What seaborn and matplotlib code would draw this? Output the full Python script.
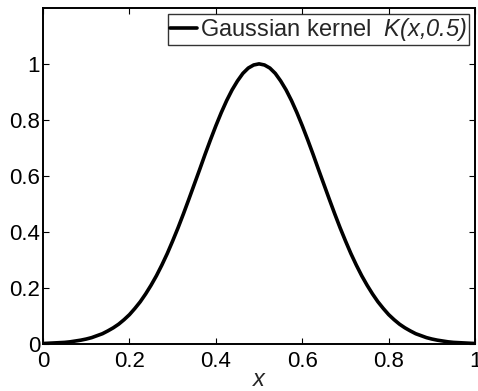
import matplotlib
matplotlib.use("Agg")
import matplotlib.pyplot as plt
import seaborn as sns

# values (x step 0.0125)
x_vals = [0.0, 0.0125, 0.025, 0.0375, 0.05, 0.0625, 0.075, 0.0875, 0.1, 0.1125,
          0.125, 0.1375, 0.15, 0.1625, 0.175, 0.1875, 0.2, 0.2125, 0.225, 0.2375,
          0.25, 0.2625, 0.275, 0.2875, 0.3, 0.3125, 0.325, 0.3375, 0.35, 0.3625,
          0.375, 0.3875, 0.4, 0.4125, 0.425, 0.4375, 0.45, 0.4625, 0.475, 0.4875,
          0.5, 0.5125, 0.525, 0.5375, 0.55, 0.5625, 0.575, 0.5875, 0.6, 0.6125,
          0.625, 0.6375, 0.65, 0.6625, 0.675, 0.6875, 0.7, 0.7125, 0.725, 0.7375,
          0.75, 0.7625, 0.775, 0.7875, 0.8, 0.8125, 0.825, 0.8375, 0.85, 0.8625,
          0.875, 0.8875, 0.9, 0.9125, 0.925, 0.9375, 0.95, 0.9625, 0.975, 0.9875,
          1.0]
k_vals = [0.002, 0.003, 0.004, 0.005, 0.006, 0.008, 0.011, 0.014, 0.018, 0.023,
          0.030, 0.037, 0.047, 0.058, 0.071, 0.087, 0.105, 0.127, 0.151, 0.179,
          0.210, 0.244, 0.282, 0.323, 0.368, 0.415, 0.465, 0.517, 0.570, 0.623,
          0.677, 0.729, 0.779, 0.826, 0.869, 0.907, 0.939, 0.966, 0.985, 0.996,
          1.000, 0.996, 0.985, 0.966, 0.939, 0.907, 0.869, 0.826, 0.779, 0.729,
          0.677, 0.623, 0.570, 0.517, 0.465, 0.415, 0.368, 0.323, 0.282, 0.244,
          0.210, 0.179, 0.151, 0.127, 0.105, 0.087, 0.071, 0.058, 0.047, 0.037,
          0.030, 0.023, 0.018, 0.014, 0.011, 0.008, 0.006, 0.005, 0.004, 0.003,
          0.002]
x_ticks = [0, 0.2, 0.4, 0.6, 0.8, 1]
x_tick_labels = ["0", "0.2", "0.4", "0.6", "0.8", "1"]
y_ticks = [0, 0.2, 0.4, 0.6, 0.8, 1]
y_tick_labels = ["0", "0.2", "0.4", "0.6", "0.8", "1"]

sns.set_theme(style="ticks")
plt.rcParams["font.family"] = ["Liberation Sans", "DejaVu Sans"]
plt.rcParams["mathtext.fontset"] = "custom"
plt.rcParams["mathtext.rm"] = "Liberation Sans:italic"
plt.rcParams["mathtext.it"] = "Liberation Sans:italic"

fig = plt.figure(figsize=(4.78, 3.91), dpi=100, facecolor="white")
ax = fig.add_axes([0.090, 0.120, 0.904, 0.860])

sns.lineplot(x=x_vals, y=k_vals, ax=ax, color="black", linewidth=2.6,
             label=r"Gaussian kernel  $K(x{,}0.5)$")

ax.set_xlim(0, 1)
ax.set_ylim(0, 1.2)
ax.set_xticks(x_ticks)
ax.set_xticklabels(x_tick_labels)
ax.set_yticks(y_ticks)
ax.set_yticklabels(y_tick_labels)
ax.tick_params(direction="in", length=4, width=0.8, labelsize=16, colors="black",
               top=True, right=True)
ax.tick_params(axis="x", pad=5)
ax.tick_params(axis="y", pad=2)
for s in ax.spines.values():
    s.set_visible(True)
    s.set_linewidth(1.4)
    s.set_color("black")

ax.set_xlabel("x", fontsize=17, style="italic", labelpad=-3)
ax.set_ylabel("")

leg = ax.legend(loc="upper right", fontsize=17, frameon=True, fancybox=False,
                handlelength=1.15, handletextpad=0.1, borderpad=0.1,
                borderaxespad=0.25)
leg.get_frame().set_edgecolor("black")
leg.get_frame().set_linewidth(1.0)

fig.savefig("out.png", dpi=100, facecolor="white")
